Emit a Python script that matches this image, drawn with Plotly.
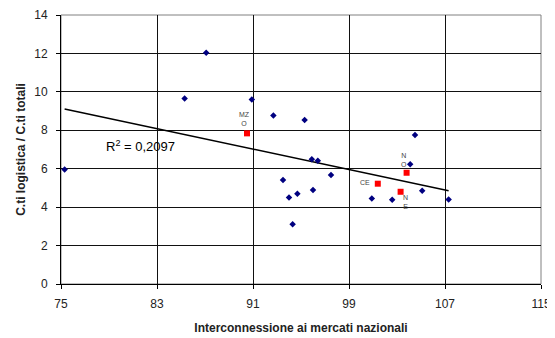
import numpy as np
import plotly.graph_objects as go

# Blue series (diamonds)
blue_x = [75.3, 85.3, 87.1, 90.9, 92.7, 95.3, 95.9, 96.4, 97.5, 93.5,
          94.0, 94.7, 96.0, 94.3, 100.9, 102.6, 104.5, 104.1, 105.1, 107.3]
blue_y = [5.96, 9.65, 12.03, 9.60, 8.77, 8.54, 6.49, 6.42, 5.67, 5.41,
          4.50, 4.70, 4.89, 3.11, 4.45, 4.38, 7.76, 6.23, 4.85, 4.40]

# Red series (squares, labelled)
red_x = [90.5, 101.4, 103.8, 103.3]
red_y = [7.84, 5.22, 5.79, 4.80]
red_labels = ["MZ<br>O", "CE", "N<br>O", "N<br>E"]

x_ticks = [75, 83, 91, 99, 107, 115]
y_ticks = [0, 2, 4, 6, 8, 10, 12, 14]
r2_text = "R<sup>2</sup> = 0,2097"

FONT = "Arial, Liberation Sans, sans-serif"

# Linear trend over all points
all_x = np.array(blue_x + red_x)
all_y = np.array(blue_y + red_y)
slope, intercept = np.polyfit(all_x, all_y, 1)
tx = np.array([all_x.min(), all_x.max()])
ty = slope * tx + intercept

fig = go.Figure()
fig.add_trace(go.Scatter(x=tx, y=ty, mode="lines",
                         line=dict(color="black", width=1.5),
                         showlegend=False, hoverinfo="skip"))
fig.add_trace(go.Scatter(x=blue_x, y=blue_y, mode="markers",
                         marker=dict(symbol="diamond", size=5, color="#000080"),
                         showlegend=False))
fig.add_trace(go.Scatter(x=red_x, y=red_y, mode="markers",
                         marker=dict(symbol="square", size=6, color="#ff0000"),
                         showlegend=False))

shifts = [(-3, 14), (-13, 1), (-3, 13), (5, -10)]
for x, y, t, (dx, dy) in zip(red_x, red_y, red_labels, shifts):
    fig.add_annotation(x=x, y=y, text=t, showarrow=False, xshift=dx, yshift=dy,
                       font=dict(family=FONT, size=7, color="#444444"))

fig.add_annotation(x=81.6, y=7.2, text=r2_text, showarrow=False,
                   font=dict(family=FONT, size=13, color="black"))

# grey frame on top/right
fig.add_shape(type="rect", xref="paper", yref="paper", x0=0, y0=0, x1=1, y1=1,
              line=dict(color="#808080", width=1), layer="below")

# page body has an 8px margin, so the figure is sized/offset to compensate
fig.update_layout(
    width=547, height=330,
    margin=dict(l=53, r=14, t=7, b=54),
    plot_bgcolor="white", paper_bgcolor="white",
    font=dict(family=FONT, size=12, color="#222222"),
    showlegend=False,
)
fig.update_xaxes(
    range=[75, 115], tickvals=x_ticks, ticktext=[str(v) for v in x_ticks],
    showgrid=True, gridcolor="#111111", gridwidth=1.2,
    showline=True, linecolor="black", linewidth=1,
    ticks="outside", ticklen=4, tickcolor="black", ticklabelstandoff=5,
    zeroline=False, automargin=False,
    title=dict(text="<b>Interconnessione ai mercati nazionali</b>",
               font=dict(family=FONT, size=12, color="#222222"), standoff=13),
    tickfont=dict(family=FONT, size=12, color="#222222"),
)
fig.update_yaxes(
    range=[0, 14], tickvals=y_ticks, ticktext=[str(v) for v in y_ticks],
    showgrid=True, gridcolor="#111111", gridwidth=1.2,
    showline=True, linecolor="black", linewidth=1,
    ticks="outside", ticklen=4, tickcolor="black", ticklabelstandoff=6,
    zeroline=False, automargin=False,
    title=dict(text="<b>C.ti logistica / C.ti totali</b>",
               font=dict(family=FONT, size=12, color="#222222"), standoff=6),
    tickfont=dict(family=FONT, size=12, color="#222222"),
)

fig.write_html("out.html")
